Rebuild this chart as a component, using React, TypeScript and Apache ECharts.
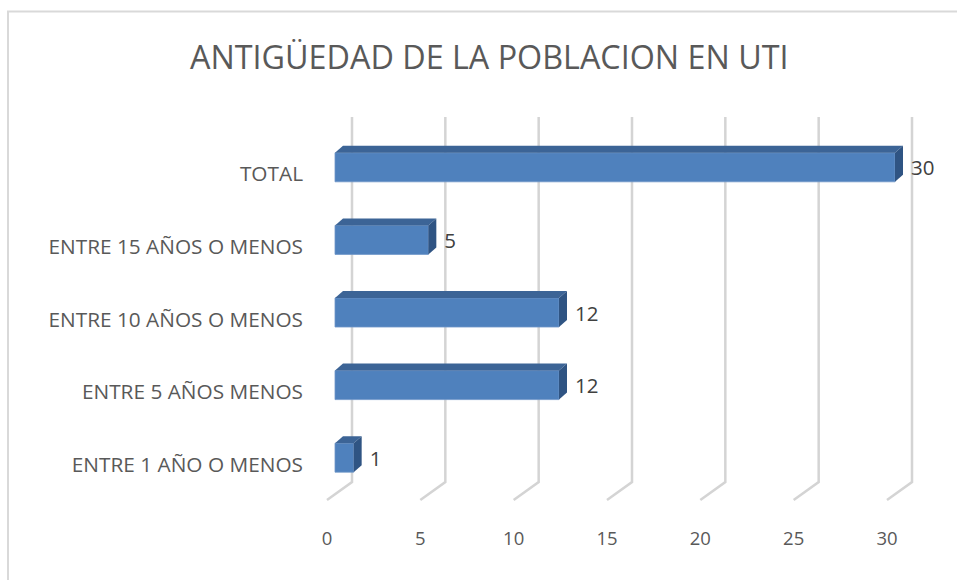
import React, { useEffect, useRef } from "react";
import * as echarts from "echarts";

const TITLE = "ANTIGÜEDAD DE LA POBLACION EN UTI";
const categories = [
  "ENTRE 1 AÑO O MENOS",
  "ENTRE 5 AÑOS MENOS",
  "ENTRE 10 AÑOS O MENOS",
  "ENTRE 15 AÑOS O MENOS",
  "TOTAL",
];
const values = [1, 12, 12, 5, 30];
const ticks = [0, 5, 10, 15, 20, 25, 30];

const FONT = "Open Sans";
const DX = 8; // bar depth x
const DY = 7; // bar depth y
const BX = 25; // wall offset
const BY = 18;

export default function App() {
  const ref = useRef<HTMLDivElement>(null);
  useEffect(() => {
    if (!ref.current) return;
    const chart = echarts.init(ref.current, undefined, { renderer: "svg" });
    chart.setOption({
      animation: false,
      backgroundColor: "#ffffff",
      title: {
        text: TITLE,
        left: 185,
        top: 35,
        textStyle: { fontFamily: FONT, fontSize: 32.3, fontWeight: "normal", color: "#595959" },
      },
      graphic: [
        {
          type: "rect",
          shape: { x: 8, y: 11.5, width: 1000, height: 1000 },
          style: { fill: "none", stroke: "#d9d9d9", lineWidth: 2 },
          silent: true,
        },
      ],
      grid: { left: 327, right: 70, top: 137, bottom: 80, containLabel: false },
      xAxis: {
        type: "value",
        min: 0,
        max: 30,
        interval: 5,
        axisLine: { show: false },
        axisTick: { show: false },
        splitLine: { show: false },
        axisLabel: { margin: 28, fontFamily: FONT, fontSize: 18.5, color: "#595959" },
      },
      yAxis: {
        type: "category",
        data: categories,
        axisLine: { show: false },
        axisTick: { show: false },
        axisLabel: { margin: 24, fontFamily: FONT, fontSize: 20.8, color: "#595959" },
      },
      series: [
        {
          type: "custom",
          z: 1,
          data: ticks.map((t) => [t]),
          renderItem: (params: any, api: any) => {
            const cs = params.coordSys;
            const v = api.value(0);
            const px = api.coord([v, 0])[0];
            const bottom = cs.y + cs.height;
            const top = cs.y - 20;
            return {
              type: "polyline",
              shape: {
                points: [
                  [px, bottom],
                  [px + BX, bottom - BY],
                  [px + BX, top],
                ],
              },
              style: { stroke: "#d4d4d4", lineWidth: 2.5, fill: "none" },
            };
          },
        },
        {
          type: "custom",
          z: 2,
          data: values.map((v, i) => [v, i]),
          renderItem: (params: any, api: any) => {
            const v = api.value(0);
            const idx = api.value(1);
            const p0 = api.coord([0, idx]);
            const p1 = api.coord([v, idx]);
            const x0 = p0[0] + DX;
            const x1 = p1[0] + DX;
            const h = 29;
            const yc = p0[1] - 6;
            const yt = yc - h / 2;
            const yb = yc + h / 2;
            return {
              type: "group",
              children: [
                {
                  type: "rect",
                  shape: { x: x0, y: yt, width: x1 - x0, height: h },
                  style: { fill: "#4f81bd", stroke: "#6f96c8", lineWidth: 0.8 },
                },
                {
                  type: "polygon",
                  shape: {
                    points: [
                      [x0, yt],
                      [x0 + DX, yt - DY],
                      [x1 + DX, yt - DY],
                      [x1, yt],
                    ],
                  },
                  style: { fill: "#3c6496" },
                },
                {
                  type: "polygon",
                  shape: {
                    points: [
                      [x1, yt],
                      [x1 + DX, yt - DY],
                      [x1 + DX, yb - DY],
                      [x1, yb],
                    ],
                  },
                  style: { fill: "#2f5483" },
                },
                {
                  type: "text",
                  style: {
                    x: x1 + DX + 8,
                    y: yc,
                    text: String(v),
                    fill: "#404040",
                    fontFamily: FONT,
                    fontSize: 20.5,
                    verticalAlign: "middle",
                    align: "left",
                  },
                },
              ],
            };
          },
        },
      ],
    });
    return () => chart.dispose();
  }, []);
  return (
    <div
      ref={ref}
      style={{ position: "absolute", left: 0, top: 0, width: 957, height: 580 }}
    />
  );
}
